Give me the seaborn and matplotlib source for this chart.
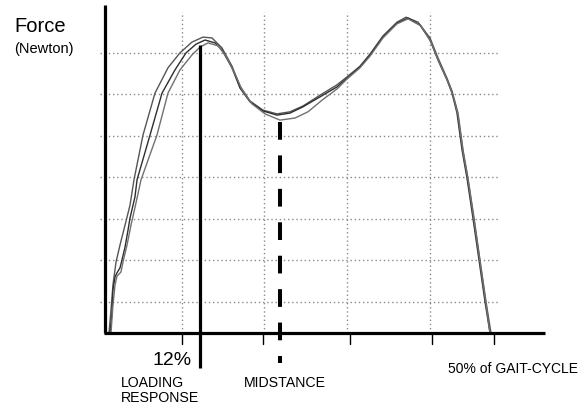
import numpy as np
import pandas as pd
import matplotlib
matplotlib.use("Agg")
import matplotlib.pyplot as plt
import seaborn as sns

# ---- data: % of gait cycle vs ground reaction force (N), three trials ----
trial_a_pct = [0.13, 0.39, 0.65, 1.05, 1.57, 2.23, 2.88, 3.40, 4.58, 6.15, 7.85, 9.42, 10.99, 12.43,
               13.61, 14.92, 16.23, 17.28, 18.59, 20.29, 22.12, 23.82, 25.52, 27.75, 29.97, 31.28,
               32.98, 34.29, 35.99, 37.83, 39.01, 40.58, 42.15, 43.19, 44.37, 45.03, 45.81, 46.47,
               47.12, 47.91, 48.69, 49.48, 50.13]
trial_a_force = [0, 55, 116, 171, 212, 260, 308, 369, 477, 578, 639, 675, 701, 713,
                 711, 687, 643, 595, 559, 537, 528, 533, 547, 573, 598, 617,
                 643, 672, 716, 749, 761, 749, 711, 663, 614, 583, 530, 441,
                 373, 277, 176, 75, 0]

trial_b_pct = [0.26, 0.52, 0.65, 0.92, 1.18, 1.57, 1.83, 2.23, 2.62, 2.88, 3.53, 3.80, 5.50, 7.07,
               8.77, 10.21, 11.52, 12.70, 14.01, 14.92, 16.23, 17.28, 18.59, 20.29, 22.12, 23.82,
               25.52, 27.75, 29.97, 31.28, 32.98, 34.29, 35.99, 37.83, 39.27, 40.84, 42.15, 43.19,
               44.37, 45.03, 45.68, 46.34, 46.99, 47.77, 48.56, 49.35, 50.00]
trial_b_force = [0, 48, 104, 135, 145, 157, 176, 207, 248, 277, 328, 369, 477, 578,
                 634, 675, 696, 706, 699, 682, 639, 590, 557, 535, 525, 530,
                 545, 569, 593, 614, 641, 670, 713, 747, 759, 742, 706, 658,
                 610, 578, 530, 441, 373, 277, 176, 75, 0]

trial_c_pct = [0.39, 0.65, 0.92, 1.18, 1.70, 1.96, 2.49, 3.01, 3.66, 4.32, 6.41, 7.85, 9.42, 10.99,
               12.04, 13.09, 14.40, 15.45, 16.49, 17.54, 18.85, 20.55, 22.51, 24.48, 26.18, 28.01,
               29.97, 31.28, 32.98, 34.29, 35.99, 37.83, 39.27, 40.97, 42.28, 43.32, 44.50, 45.16,
               45.81, 46.47, 47.12, 47.91, 48.69, 49.48, 50.00]
trial_c_force = [0, 67, 116, 137, 147, 171, 212, 260, 313, 369, 477, 578, 634, 670,
                 689, 699, 692, 667, 629, 586, 552, 528, 513, 518, 533, 561,
                 588, 612, 639, 667, 711, 745, 757, 740, 701, 653, 605, 573,
                 525, 436, 369, 272, 171, 70, 0]

grid_force = [75, 175, 275, 375, 475, 575, 675]
grid_pct = [9.69, 20.42, 31.28, 42.15]
tick_pct = [9.69, 20.29, 31.68, 42.41, 50.52]
loading_response_pct = 12.0
midstance_pct = 22.5

df = pd.concat([
    pd.DataFrame({"pct": trial_a_pct, "force": trial_a_force, "trial": "A"}),
    pd.DataFrame({"pct": trial_b_pct, "force": trial_b_force, "trial": "B"}),
    pd.DataFrame({"pct": trial_c_pct, "force": trial_c_force, "trial": "C"}),
], ignore_index=True)

sns.set_style("white")
plt.rcParams["font.family"] = ["Liberation Sans", "DejaVu Sans"]

W, H = 582, 405
fig = plt.figure(figsize=(W / 100, H / 100), dpi=100)
ax = fig.add_axes([0, 0, 1, 1])
ax.set_xlim(-14.136, 62.042)
ax.set_ylim(-173.5, 802.4)
ax.axis("off")

grid_kw = dict(color="#8a8a8a", lw=1.0, linestyle=(0, (1, 2)), zorder=1)
for g in grid_force:
    ax.plot([-1.05, 51.3], [g, g], **grid_kw)
for g in grid_pct:
    ax.plot([g, g], [0, 773], **grid_kw)

sns.lineplot(data=df, x="pct", y="force", hue="trial", units="trial", estimator=None,
             sort=False, palette=["#555555", "#2e2e2e", "#707070"], lw=1.0,
             legend=False, ax=ax, zorder=3)

# axes
ax.plot([-0.4, -0.4], [0, 790], color="black", lw=2.3, solid_capstyle="butt", zorder=4)
ax.plot([-0.55, 57.2], [0, 0], color="black", lw=2.3, solid_capstyle="butt", zorder=4)
for t in tick_pct:
    ax.plot([t, t], [0, -26], color="black", lw=1.0, zorder=4)

# phase markers
ax.plot([loading_response_pct] * 2, [694, -84], color="black", lw=2.3,
        solid_capstyle="butt", zorder=5)
ax.plot([midstance_pct] * 2, [508, -72], color="black", lw=2.9,
        linestyle=(0, (4.4, 3.9)), dash_capstyle="butt", zorder=5)

def ftext(px, py, s, size, ha="left"):
    fig.text(px / W, 1 - py / H, s, fontsize=size, va="baseline", ha=ha, color="black")

ftext(14, 32, "Force", 14.5)
ftext(14, 53, "(Newton)", 10.5)
ftext(152, 365, "12%", 14)
ftext(121, 387, "LOADING", 10.2)
ftext(121, 402, "RESPONSE", 10.2)
ftext(244, 387, "MIDSTANCE", 10.2)
ftext(578, 373, "50% of GAIT-CYCLE", 10.0, ha="right")

fig.savefig("out.png", dpi=100)
